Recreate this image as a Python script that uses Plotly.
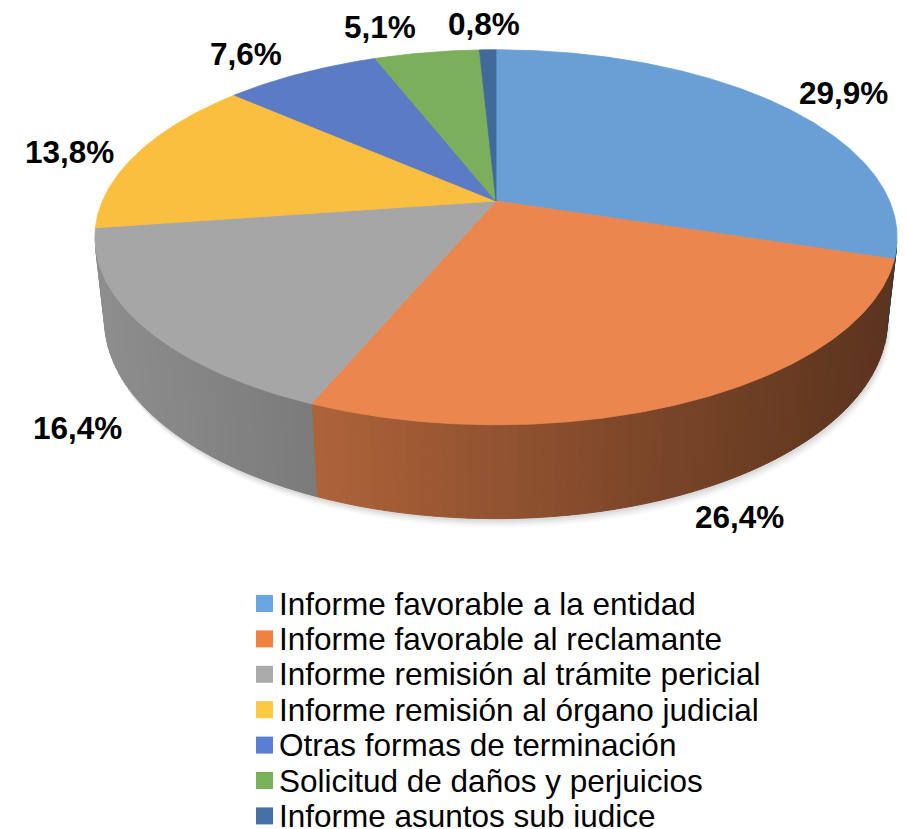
import numpy as np
import plotly.graph_objects as go

# ---------------- data ----------------
categories = [
    "Informe favorable a la entidad",
    "Informe favorable al reclamante",
    "Informe remisión al trámite pericial",
    "Informe remisión al órgano judicial",
    "Otras formas de terminación",
    "Solicitud de daños y perjuicios",
    "Informe asuntos sub iudice",
]
values = [29.9, 26.4, 16.4, 13.8, 7.6, 5.1, 0.8]
value_labels = ["29,9%", "26,4%", "16,4%", "13,8%", "7,6%", "5,1%", "0,8%"]

top_colors = ["#6A9FD6", "#EB864E", "#A6A6A6", "#FABF3F", "#5B7BC4", "#7CAF5B", "#3F6A9A"]
legend_colors = ["#6AA6E0", "#F0813F", "#ABABAB", "#FCCA3E", "#5A7ED2", "#78B158", "#4470A6"]

# ---------------- geometry (3D perspective pie) ----------------
W, H = 907, 829
CX, CY = 496, 201
FOC = 1808.0
DIST = 4.594
ELEV = np.radians(27.3)
DEPTH = 0.238
SE, CE = np.sin(ELEV), np.cos(ELEV)

# label placement tweaks in pixels (layout only)
LABEL_NUDGE = [(-2, -5), (11, 6), (-18, 1), (-2, 3), (-6, -7), (-22, -5), (0, -3)]


def project(phi, r=1.0, z=0.0):
    x = r * np.sin(phi)
    y = r * np.cos(phi)
    d = y * CE + DIST - z * SE
    sx = FOC * x / d
    sy = FOC * (y * SE + z * CE) / d
    return CX + sx, CY - sy


def hex_rgb(h):
    h = h.lstrip("#")
    return tuple(int(h[i:i + 2], 16) for i in (0, 2, 4))


def shade(h, k):
    r, g, b = hex_rgb(h)
    return "rgb(%d,%d,%d)" % (int(r * k), int(g * k), int(b * k))


total = float(sum(values))
cum = np.concatenate([[0.0], np.cumsum(values)]) / total * 2 * np.pi

fig = go.Figure()

# soft shadow under the pie
phi_all = np.linspace(0, 2 * np.pi, 361)
bx, by = project(phi_all, 1.0, -DEPTH)
for off, a in [(9, 0.025), (7, 0.03), (5, 0.04), (3, 0.05)]:
    fig.add_trace(go.Scatter(x=bx + off * 0.4, y=by + off, mode="lines", fill="toself",
                             fillcolor="rgba(0,0,0,%g)" % a, line=dict(width=0),
                             hoverinfo="skip", showlegend=False))

# side wall (visible part only)
phi_lo = np.arccos(-1.0 / (DIST * CE))
phi_hi = 2 * np.pi - phi_lo
shade_x = [95, 310, 640, 895]
shade_k = [0.86, 0.745, 0.53, 0.385]
for i in range(len(values)):
    a0, a1 = max(cum[i], phi_lo), min(cum[i + 1], phi_hi)
    if a1 <= a0:
        continue
    n = max(2, int(np.ceil((a1 - a0) / np.radians(1.5))))
    edges = np.linspace(a0, a1, n + 1)
    for j in range(n):
        p = np.linspace(edges[j], edges[j + 1], 4)
        tx, ty = project(p, 1.0, 0.0)
        qx, qy = project(p[::-1], 1.0, -DEPTH)
        xs = np.concatenate([tx, qx, tx[:1]])
        ys = np.concatenate([ty, qy, ty[:1]])
        mx, _ = project((edges[j] + edges[j + 1]) / 2, 1.0, -DEPTH / 2)
        col = shade(top_colors[i], float(np.interp(mx, shade_x, shade_k)))
        fig.add_trace(go.Scatter(x=xs, y=ys, mode="lines", fill="toself", fillcolor=col,
                                 line=dict(width=1, color=col), hoverinfo="skip",
                                 showlegend=False))

# top faces
for i in range(len(values)):
    n = max(4, int(np.ceil((cum[i + 1] - cum[i]) / np.radians(0.5))))
    p = np.linspace(cum[i], cum[i + 1], n)
    rx, ry = project(p)
    xs = np.concatenate([[CX], rx, [CX]])
    ys = np.concatenate([[CY], ry, [CY]])
    fig.add_trace(go.Scatter(x=xs, y=ys, mode="lines", fill="toself",
                             fillcolor=top_colors[i], line=dict(width=0.8, color=top_colors[i]),
                             name=categories[i], hoverinfo="name", showlegend=False))

# data labels
LFS = 31.5
annotations = []
for i in range(len(values)):
    mid = (cum[i] + cum[i + 1]) / 2
    z = -DEPTH if np.cos(mid) < -1.0 / (DIST * CE) else 0.0
    px, py = project(mid, 1.0, z)
    dx, dy = px - CX, py - CY
    nrm = np.hypot(dx, dy)
    ux, uy = dx / nrm, dy / nrm
    lab = value_labels[i]
    nd = sum(ch.isdigit() for ch in lab)
    hw = 0.5 * 30 * (0.556 * nd + 0.278 + 0.889)
    hh = 0.5 * 30 * 0.72
    nx, ny = LABEL_NUDGE[i]
    annotations.append(dict(x=px + ux * (hw + 25) + nx, y=py + uy * (hh + 12) + ny,
                            text="<b>%s</b>" % lab,
                            showarrow=False, xanchor="center", yanchor="middle",
                            font=dict(family="Liberation Sans, Arial, sans-serif", size=LFS,
                                      color="#000000")))

# legend (manual, to match the tight spacing)
LEG_X, LEG_Y0, LEG_DY = 264.5, 603.5, 35.4
leg_y = [LEG_Y0 + k * LEG_DY for k in range(len(categories))]
fig.add_trace(go.Scatter(x=[LEG_X] * len(categories), y=leg_y, mode="markers",
                         marker=dict(symbol="square", size=17, color=legend_colors,
                                     line=dict(width=0)),
                         hoverinfo="skip", showlegend=False))
for k, name in enumerate(categories):
    annotations.append(dict(x=LEG_X + 12, y=leg_y[k], text=name, showarrow=False,
                            xanchor="left", yanchor="middle",
                            font=dict(family="Liberation Sans, Arial, sans-serif", size=31.5,
                                      color="#000000")))

fig.update_layout(
    width=W, height=H,
    margin=dict(l=0, r=0, t=0, b=0),
    paper_bgcolor="white", plot_bgcolor="white",
    xaxis=dict(range=[0, W], visible=False, fixedrange=True),
    yaxis=dict(range=[H, 0], visible=False, fixedrange=True),
    annotations=annotations,
    showlegend=False,
)

fig.write_html("out.html", config={"displayModeBar": False},
               post_script="document.body.style.margin='0';")
